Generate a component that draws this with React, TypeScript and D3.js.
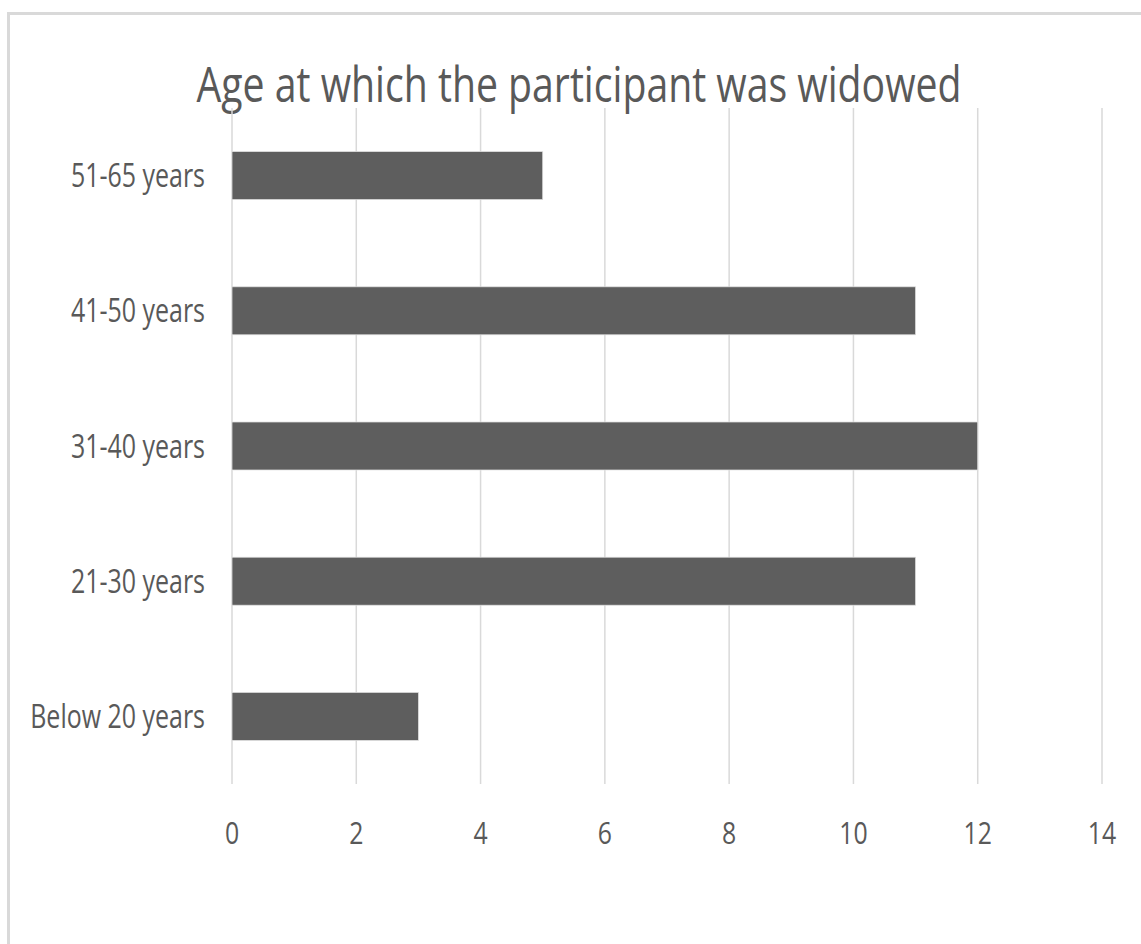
import React from "react";
import * as d3 from "d3";

const categories = ["51-65 years", "41-50 years", "31-40 years", "21-30 years", "Below 20 years"];
const counts = [5, 11, 12, 11, 3];
const xTicks = [0, 2, 4, 6, 8, 10, 12, 14];
const title = "Age at which the participant was widowed";

const W = 1141;
const H = 944;
const plot = { left: 232, right: 1102, top: 108, bottom: 784 };
const FONT = "'Open Sans', sans-serif";
const TEXT = "#595959";
const GRID = "#d9d9d9";
const BAR = "#5e5e5e";

export default function App() {
  const x = d3.scaleLinear().domain([0, 14]).range([plot.left, plot.right]);
  const y = d3
    .scaleBand<string>()
    .domain(categories)
    .range([plot.top, plot.bottom])
    .paddingInner(0.645)
    .paddingOuter(0.3225);

  return (
    <svg
      width={W}
      height={H}
      style={{ position: "absolute", left: 0, top: 0, background: "#fff" }}
    >
      <rect x={8.5} y={13.5} width={W + 20} height={H + 20} fill="#fff" stroke={GRID} strokeWidth={3} />

      <text
        transform={`translate(${(198 + 960) / 2},102) scale(0.8,1)`}
        textAnchor="middle"
        fontFamily={FONT}
        fontSize={49}
        fill={TEXT}
      >
        {title}
      </text>

      {xTicks.map((t) => (
        <line
          key={`g${t}`}
          x1={x(t)}
          x2={x(t)}
          y1={plot.top}
          y2={plot.bottom}
          stroke={GRID}
          strokeWidth={1.5}
        />
      ))}

      {categories.map((c, i) => (
        <rect
          key={c}
          x={x(0)}
          y={y(c)!}
          width={x(counts[i]) - x(0)}
          height={y.bandwidth()}
          fill={BAR}
          stroke="#e0e0e0"
          strokeWidth={0.75}
        />
      ))}

      {categories.map((c) => (
        <text
          key={`l${c}`}
          transform={`translate(205,${y(c)! + y.bandwidth() / 2 + 11.5}) scale(0.78,1)`}
          textAnchor="end"
          fontFamily={FONT}
          fontSize={32}
          fill={TEXT}
        >
          {c}
        </text>
      ))}

      {xTicks.map((t) => (
        <text
          key={`t${t}`}
          transform={`translate(${x(t)},844) scale(0.8,1)`}
          textAnchor="middle"
          fontFamily={FONT}
          fontSize={31}
          fill={TEXT}
        >
          {t}
        </text>
      ))}
    </svg>
  );
}
